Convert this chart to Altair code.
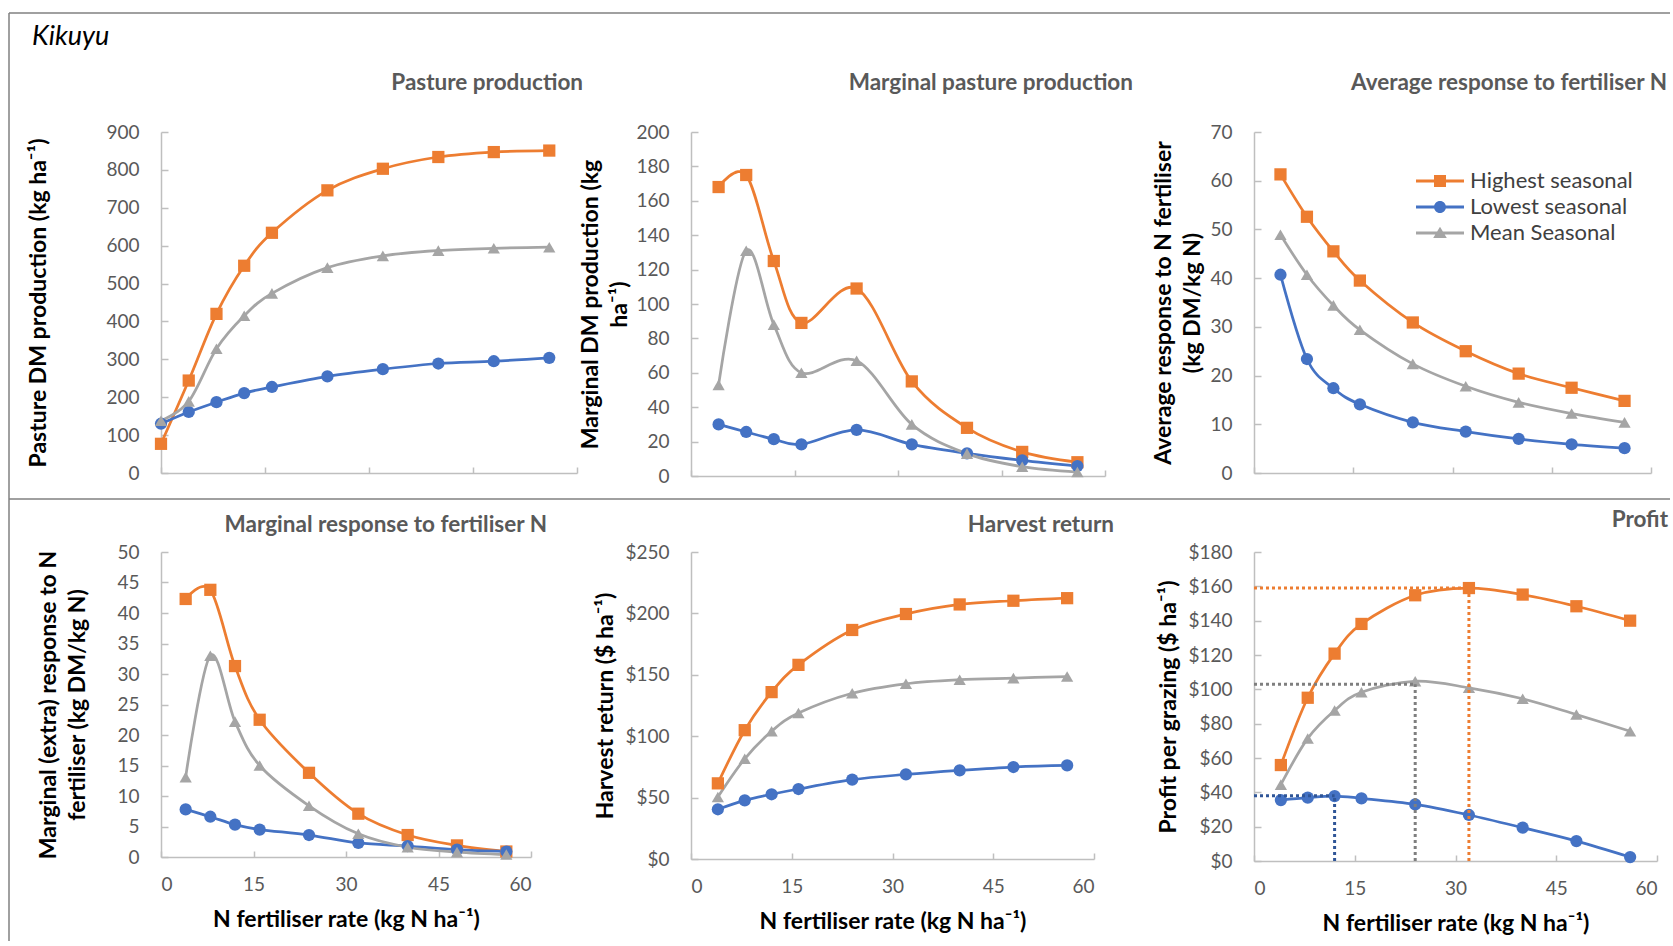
import altair as alt
import pandas as pd

# ---------------- data ----------------
SERIES = ["Highest seasonal", "Lowest seasonal", "Mean Seasonal"]
COLORS = ["#ED7D31", "#4472C4", "#A5A5A5"]
SHAPES = ["square", "circle", "triangle-up"]
OPT_COLORS = ["#ED7D31", "#2F5597", "#7F7F7F"]

N_PASTURE = [0, 4, 8, 12, 16, 24, 32, 40, 48, 56]
N_RATE = [4, 8, 12, 16, 24, 32, 40, 48, 56]
X_TICKS = [0, 15, 30, 45, 60]

pasture_high = [77, 244, 420, 547, 634, 746, 803, 834, 847, 851]
pasture_low = [130, 161, 187, 211, 227, 255, 274, 289, 295, 304]
pasture_mean = [138, 189, 328, 415, 474, 542, 573, 587, 593, 596]

marg_prod_high = [168, 175, 125, 89, 109, 55, 28, 14, 8]
marg_prod_low = [30, 25.6, 21.4, 18.4, 26.8, 18.4, 13.2, 9.1, 5.8]
marg_prod_mean = [53, 131, 88, 60, 67, 30, 13, 5.4, 2.3]

avg_resp_high = [61.3, 52.6, 45.5, 39.5, 30.9, 25.0, 20.4, 17.5, 14.8]
avg_resp_low = [40.7, 23.4, 17.4, 14.1, 10.4, 8.5, 7.0, 5.9, 5.1]
avg_resp_mean = [48.9, 40.7, 34.4, 29.4, 22.4, 17.8, 14.5, 12.2, 10.4]

marg_resp_high = [42.3, 43.8, 31.3, 22.5, 13.8, 7.1, 3.6, 1.9, 0.9]
marg_resp_low = [7.8, 6.6, 5.3, 4.5, 3.6, 2.3, 1.8, 1.2, 0.9]
marg_resp_mean = [13.1, 33.0, 22.2, 15.0, 8.4, 3.8, 1.6, 0.8, 0.4]

harvest_high = [61.6, 104.9, 135.9, 158.1, 186.5, 199.5, 207.3, 210.3, 212.4]
harvest_low = [40.5, 47.8, 52.7, 57.0, 64.6, 68.9, 72.2, 74.9, 76.2]
harvest_mean = [50.5, 81.6, 104.0, 118.9, 135.0, 142.7, 146.0, 147.3, 148.6]

profit_high = [55.9, 95.1, 120.8, 138.1, 154.8, 159.0, 155.2, 148.4, 140.0]
profit_low = [35.5, 36.9, 37.8, 36.5, 33.0, 26.8, 19.4, 11.6, 2.3]
profit_mean = [44.5, 71.4, 87.7, 98.3, 104.7, 100.9, 94.5, 85.3, 75.6]

# optimum (max profit) per series, in SERIES order
OPT_N = [32, 12, 24]
OPT_PROFIT = [159, 38, 103]

# legend symbols: line + marker (custom SVG paths)
LINE_PATH = "M-2.4,-0.14H2.4V0.14H-2.4Z "
LEG_PATHS = [
    LINE_PATH + "M-0.6,-0.6H0.6V0.6H-0.6Z",
    LINE_PATH + "M0.6,0A0.6,0.6,0,1,1,-0.6,0A0.6,0.6,0,1,1,0.6,0Z",
    LINE_PATH + "M0,-0.62L0.68,0.5H-0.68Z",
]

AX_GRAY = "#BFBFBF"
FRAME = "#808080"
FONT = "Lato"
XTITLE = "N fertiliser rate (kg N ha\u207b\u00b9)"


def long(xs, high, low, mean):
    rows = []
    for s, vals in zip(SERIES, [high, low, mean]):
        for x, v in zip(xs, vals):
            rows.append({"N": x, "value": v, "series": s, "Series": s})
    return pd.DataFrame(rows)


def panel(df, ymax, ystep, yfmt, ytitle, title, W, H, title_dx, title_offset,
          ytitle_x, bottom, xrange=None, profit=False, legend=False):
    yvals = list(range(0, ymax + 1, ystep))
    sc = dict(domain=[0, 60], nice=False, zero=False)
    if xrange:
        sc["range"] = xrange
    xscale = alt.Scale(**sc)
    yscale = alt.Scale(domain=[0, ymax], nice=False)

    xkw = dict(values=X_TICKS, ticks=False, tickSize=0, grid=False, labels=bottom)
    if bottom:
        xkw.update(format="d", labelPadding=18, title=XTITLE,
                   titleX=W / 2, titleY=62, titleBaseline="middle", titleAlign="center")
    else:
        xkw.update(title=None)
    x_main = alt.Axis(**xkw)
    y_main = alt.Axis(values=yvals, format=yfmt, ticks=False, tickSize=0, grid=False,
                      labelPadding=22, title=ytitle, titleX=ytitle_x, titleY=H / 2,
                      titleAngle=270, titleAlign="center", titleBaseline="middle",
                      titleLineHeight=29)
    x_tick = alt.Axis(orient="top", offset=-H, values=X_TICKS, labels=False,
                      domain=False, ticks=True, tickSize=6, title=None, grid=False)
    y_tick = alt.Axis(orient="right", offset=-W, values=yvals, labels=False,
                      domain=False, ticks=True, tickSize=7, title=None, grid=False)

    cscale = alt.Scale(domain=SERIES, range=COLORS)
    lines = alt.Chart(df).mark_line(interpolate="cardinal", strokeWidth=2.75).encode(
        x=alt.X("N:Q", scale=xscale, axis=x_main),
        y=alt.Y("value:Q", scale=yscale, axis=y_main),
        color=alt.Color("series:N", scale=cscale, legend=None),
    )
    points = alt.Chart(df).mark_point(filled=True, size=150, opacity=1).encode(
        x=alt.X("N:Q", scale=xscale, axis=x_tick),
        y=alt.Y("value:Q", scale=yscale, axis=y_tick),
        color=alt.Color("series:N", scale=cscale, legend=None),
        shape=alt.Shape("series:N", scale=alt.Scale(domain=SERIES, range=SHAPES), legend=None),
    )
    layers = [lines, points]

    if profit:
        odf = pd.DataFrame({"N": OPT_N, "profit": OPT_PROFIT, "series": SERIES,
                            "base": [0] * len(OPT_N)})
        oscale = alt.Scale(domain=SERIES, range=OPT_COLORS)
        hrule = alt.Chart(odf).mark_rule(strokeDash=[3, 3], strokeWidth=3).encode(
            x=alt.X("base:Q", scale=xscale, axis=None), x2="N:Q",
            y=alt.Y("profit:Q", scale=yscale, axis=None),
            color=alt.Color("series:N", scale=oscale, legend=None),
        )
        vrule = alt.Chart(odf).mark_rule(strokeDash=[3, 3], strokeWidth=3).encode(
            x=alt.X("N:Q", scale=xscale, axis=None),
            y=alt.Y("base:Q", scale=yscale, axis=None), y2="profit:Q",
            color=alt.Color("series:N", scale=oscale, legend=None),
        )
        layers += [hrule, vrule]

    if legend:
        leg_props = dict(orient="none", legendX=175, legendY=38, title=None,
                         labelFont=FONT, labelFontSize=22, labelColor="#404040",
                         labelOffset=19, rowPadding=4, symbolSize=400,
                         symbolStrokeWidth=0, symbolOpacity=1, padding=0,
                         labelLimit=400)
        leg = alt.Chart(df).transform_filter("datum.N < 0").mark_point(
            filled=True, opacity=1).encode(
            x=alt.X("N:Q", scale=xscale, axis=None),
            y=alt.Y("value:Q", scale=yscale, axis=None),
            color=alt.Color("Series:N", scale=alt.Scale(domain=SERIES, range=COLORS),
                            legend=alt.Legend(**leg_props)),
            shape=alt.Shape("Series:N", scale=alt.Scale(domain=SERIES, range=LEG_PATHS),
                            legend=alt.Legend(**leg_props)),
        )
        layers.append(leg)

    return alt.layer(*layers).resolve_axis(
        x="independent", y="independent"
    ).resolve_scale(color="independent", shape="independent").properties(
        width=W, height=H,
        title=alt.TitleParams(title, anchor="end", dx=title_dx, offset=title_offset,
                              frame="group"),
    )


p1 = panel(long(N_PASTURE, pasture_high, pasture_low, pasture_mean), 900, 100, "d",
           "Pasture DM production (kg ha\u207b\u00b9)", "Pasture production",
           416, 341, 6, 29, -123, False)
p2 = panel(long(N_RATE, marg_prod_high, marg_prod_low, marg_prod_mean), 200, 20, "d",
           ["Marginal  DM production (kg", "ha\u207b\u00b9)"], "Marginal  pasture production",
           449, 344, -7, 29, -101, False, xrange=[0, 414])
p3 = panel(long(N_RATE, avg_resp_high, avg_resp_low, avg_resp_mean), 70, 10, "d",
           ["Average response to N fertiliser", "(kg DM/kg N)"], "Average response to fertiliser N",
           397, 341, 16, 29, -91, False, legend=True)
p4 = panel(long(N_RATE, marg_resp_high, marg_resp_low, marg_resp_mean), 50, 5, "d",
           ["Marginal   (extra) response to N", "fertiliser  (kg DM/kg N)"],
           "Marginal  response to fertiliser N", 370, 305, 16, 7, -113, True)
p5 = panel(long(N_RATE, harvest_high, harvest_low, harvest_mean), 250, 50, "$,.0f",
           "Harvest return ($ ha\u207b\u00b9)", "Harvest return", 403, 307, 20, 7, -86, True)
p6 = panel(long(N_RATE, profit_high, profit_low, profit_mean), 180, 20, "$,.0f",
           "Profit per grazing ($ ha\u207b\u00b9)", "Profit", 403, 309, 11, 12, -86, True,
           profit=True)

# ---------------- frame decoration ----------------
one = alt.Data(values=[{"k": 1}])
frame_left = alt.Chart(one).mark_rule(color=FRAME, strokeWidth=1.5).encode(
    x=alt.value(-152), y=alt.value(-924), y2=alt.value(4))
frame_top = alt.Chart(one).mark_rule(color=FRAME, strokeWidth=1.5).encode(
    x=alt.value(-152), x2=alt.value(1509), y=alt.value(-924))
frame_div = alt.Chart(one).mark_rule(color=FRAME, strokeWidth=1.5).encode(
    x=alt.value(-152), x2=alt.value(1509), y=alt.value(-438))
kikuyu = alt.Chart(one).mark_text(text="Kikuyu", font=FONT, fontStyle="italic",
                                  fontSize=27, align="left", baseline="alphabetic",
                                  color="#000000").encode(x=alt.value(-129), y=alt.value(-892))
deco = alt.layer(frame_left, frame_top, frame_div, kikuyu).properties(width=1, height=1)

chart = alt.concat(
    p1, p2, p3, p4, p5, p6, deco, columns=3,
    spacing={"row": 76, "column": 114}, bounds="flush",
).resolve_scale(
    color="independent", shape="independent", x="independent", y="independent"
).properties(
    padding={"left": 8, "top": 12, "right": 0, "bottom": 0},
    background="white",
).configure_view(stroke=None).configure_axis(
    domainColor=AX_GRAY, domainWidth=1.5, tickColor=AX_GRAY, tickWidth=1.5,
    labelFont=FONT, labelFontSize=19, labelColor="#595959",
    titleFont=FONT, titleFontSize=23, titleFontWeight="bold", titleColor="#000000",
    grid=False,
).configure_title(font=FONT, fontSize=22.5, fontWeight="bold", color="#595959")

chart.save("out.html", embed_options={"renderer": "svg", "actions": False})
